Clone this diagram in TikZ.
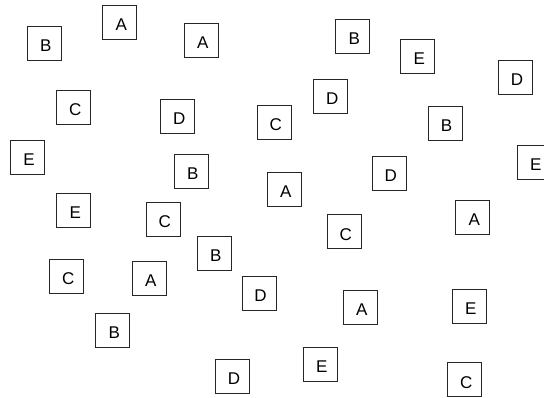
\documentclass[tikz,border=0pt]{standalone}
\usepackage{fontspec}
\setmainfont{Liberation Sans}
\begin{document}
\begin{tikzpicture}[x=1pt,y=-1pt,
  box/.style={draw=black!85,line width=0.8pt,minimum width=34pt,minimum height=34pt,inner sep=0pt,
    text height=16.6pt,text depth=0pt,font=\fontsize{17}{17}\selectfont,execute at begin node=\hspace*{3pt}}]
\useasboundingbox (0,0) rectangle (544,398);
\begin{scope}
\clip (0,0) rectangle (544,398);
\node[box] (n1) at (44.3,43.5) {B};
\node[box] (n2) at (119.7,22.3) {A};
\node[box] (n3) at (201.3,40) {A};
\node[box] (n4) at (352.7,36.5) {B};
\node[box] (n5) at (417.7,56) {E};
\node[box] (n6) at (515.5,77.7) {D};
\node[box] (n7) at (73.8,107.5) {C};
\node[box] (n8) at (177.8,116.5) {D};
\node[box] (n9) at (274.2,122.3) {C};
\node[box] (n10) at (330.8,96.5) {D};
\node[box] (n11) at (445,123.7) {B};
\node[box] (n12) at (27.5,157.2) {E};
\node[box] (n13) at (191.2,171.7) {B};
\node[box] (n14) at (284.3,189.2) {A};
\node[box] (n15) at (389.2,173.2) {D};
\node[box] (n16) at (534.3,162.5) {E};
\node[box] (n17) at (73.8,210.2) {E};
\node[box] (n18) at (163.3,219.3) {C};
\node[box] (n19) at (344.2,231.8) {C};
\node[box] (n20) at (472.8,217.2) {A};
\node[box] (n21) at (214.3,253.5) {B};
\node[box] (n22) at (66.8,276.5) {C};
\node[box] (n23) at (149.2,278.2) {A};
\node[box] (n24) at (259,293.2) {D};
\node[box] (n25) at (360.2,307.3) {A};
\node[box] (n26) at (469.3,306.5) {E};
\node[box] (n27) at (112.7,330.5) {B};
\node[box] (n28) at (232.5,376.3) {D};
\node[box] (n29) at (320.3,364.7) {E};
\node[box] (n30) at (464.7,379.8) {C};
\end{scope}
\end{tikzpicture}
\end{document}
